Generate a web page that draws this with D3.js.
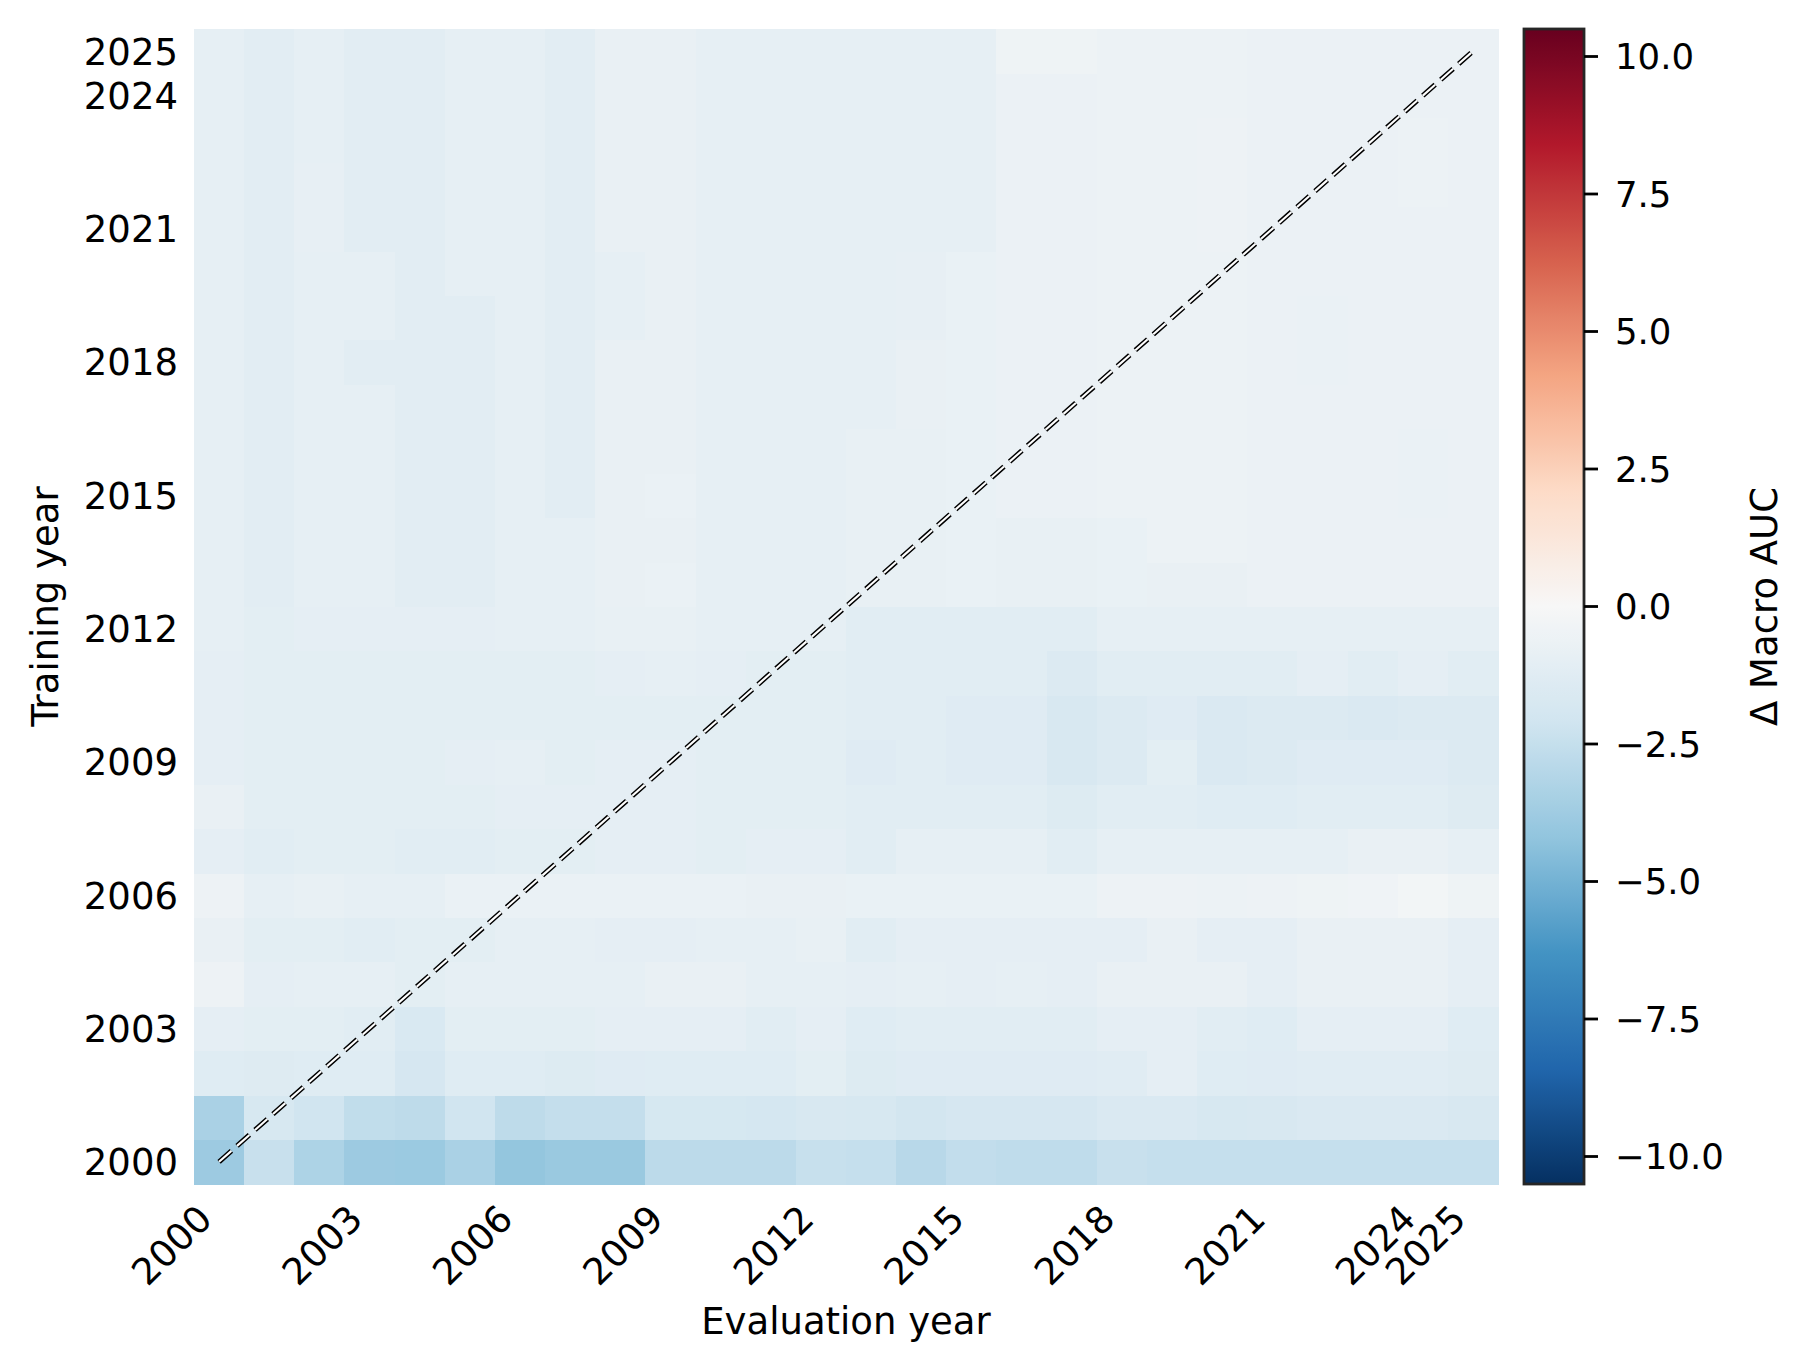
<!DOCTYPE html>
<html>
<head>
<meta charset="utf-8">
<script src="https://cdn.jsdelivr.net/npm/d3@7/dist/d3.min.js"></script>
<style>
  body { margin: 0; background: #fff; }
  svg text { font-family: "DejaVu Sans", sans-serif; fill: #000; }
</style>
</head>
<body>
<div id="container"></div>
<script>
// training / evaluation years (same set on both axes)
const years = [2000, 2001, 2002, 2003, 2004, 2005, 2006, 2007, 2008, 2009, 2010, 2011, 2012,
               2013, 2014, 2015, 2016, 2017, 2018, 2019, 2020, 2021, 2022, 2023, 2024, 2025];
const tickYears = [2000, 2003, 2006, 2009, 2012, 2015, 2018, 2021, 2024, 2025];
const cbarTicks = [-10, -7.5, -5, -2.5, 0, 2.5, 5, 7.5, 10];
const vLimit = 10.5;

// delta macro AUC, one row per training year (2000 first), columns = evaluation year 2000..2025
const deltaAuc = [
  [-3.85,-2.4,-3.3,-3.85,-3.9,-3.4,-4.15,-3.95,-3.95,-2.8,-2.8,-2.8,-2.45,-2.5,-2.95,-2.6,-2.7,-2.7,-2.4,-2.5,-2.5,-2.5,-2.5,-2.5,-2.5,-2.5],
  [-3.4,-1.75,-2.1,-2.65,-2.75,-2.1,-2.75,-2.55,-2.55,-1.8,-1.8,-1.9,-1.7,-1.75,-2.0,-1.85,-1.85,-1.85,-1.6,-1.6,-1.75,-1.7,-1.6,-1.6,-1.6,-1.7],
  [-1.3,-1.4,-1.3,-1.3,-1.85,-1.3,-1.3,-1.45,-1.35,-1.3,-1.3,-1.3,-1.1,-1.45,-1.35,-1.35,-1.35,-1.35,-1.25,-1.0,-1.3,-1.35,-1.25,-1.25,-1.25,-1.4],
  [-1.0,-1.1,-1.1,-1.2,-1.65,-1.1,-1.1,-1.1,-1.0,-1.0,-1.0,-1.2,-1.0,-1.3,-1.2,-1.2,-1.2,-1.2,-1.0,-1.0,-1.2,-1.3,-1.0,-1.0,-1.0,-1.3],
  [-0.55,-1.0,-0.95,-0.95,-1.1,-0.95,-0.95,-0.95,-0.95,-0.8,-0.8,-0.95,-0.95,-1.0,-0.95,-1.0,-0.95,-1.0,-0.8,-0.8,-0.8,-1.0,-0.8,-0.8,-0.8,-1.0],
  [-0.8,-1.1,-1.1,-1.2,-1.1,-1.1,-0.95,-0.95,-1.0,-1.0,-0.95,-0.95,-0.85,-1.2,-1.0,-1.0,-1.0,-1.0,-1.0,-0.8,-1.0,-1.0,-0.8,-0.8,-0.8,-1.0],
  [-0.55,-0.95,-0.85,-0.95,-0.95,-0.72,-0.72,-0.72,-0.72,-0.72,-0.72,-0.8,-0.8,-0.75,-0.75,-0.75,-0.75,-0.75,-0.55,-0.55,-0.62,-0.55,-0.5,-0.45,-0.25,-0.5],
  [-1.0,-1.2,-1.1,-1.1,-1.2,-1.2,-1.1,-1.1,-1.0,-1.0,-1.1,-1.0,-1.0,-1.2,-0.95,-0.95,-0.95,-1.2,-0.95,-0.95,-0.95,-0.95,-0.95,-0.8,-0.8,-0.95],
  [-0.8,-1.1,-1.1,-1.1,-1.1,-1.1,-1.0,-1.0,-1.0,-1.0,-1.1,-1.1,-1.1,-1.2,-1.2,-1.2,-1.2,-1.45,-1.2,-1.2,-1.3,-1.3,-1.2,-1.2,-1.2,-1.4],
  [-1.0,-1.1,-1.1,-1.1,-1.1,-1.0,-0.95,-1.1,-1.0,-1.0,-1.1,-1.1,-1.1,-1.35,-1.2,-1.35,-1.35,-1.7,-1.5,-1.1,-1.6,-1.5,-1.35,-1.35,-1.35,-1.5],
  [-1.0,-1.1,-1.1,-1.1,-1.1,-1.1,-1.1,-1.1,-1.1,-1.1,-1.1,-1.1,-1.1,-1.2,-1.2,-1.35,-1.35,-1.7,-1.5,-1.35,-1.6,-1.5,-1.5,-1.6,-1.5,-1.5],
  [-1.0,-1.1,-1.1,-1.1,-1.1,-1.1,-1.1,-1.1,-1.0,-0.95,-1.0,-1.1,-1.1,-1.2,-1.2,-1.2,-1.2,-1.5,-1.2,-1.2,-1.2,-1.2,-1.0,-1.2,-1.0,-1.2],
  [-0.95,-1.1,-1.0,-1.0,-1.0,-1.0,-0.95,-0.95,-0.85,-0.85,-0.95,-0.95,-0.95,-1.2,-1.2,-1.2,-1.2,-1.2,-0.95,-0.95,-0.95,-0.95,-0.95,-0.95,-0.95,-0.95],
  [-0.95,-1.15,-0.95,-0.95,-1.15,-1.15,-0.95,-0.95,-0.8,-0.72,-0.95,-0.95,-0.95,-0.85,-0.85,-0.75,-0.85,-0.85,-0.75,-0.8,-0.8,-0.65,-0.65,-0.65,-0.65,-0.65],
  [-0.95,-1.15,-0.95,-0.95,-1.15,-1.15,-0.95,-0.95,-0.8,-0.8,-0.95,-0.95,-0.95,-0.85,-0.85,-0.75,-0.85,-0.85,-0.75,-0.6,-0.6,-0.65,-0.65,-0.65,-0.65,-0.65],
  [-0.95,-1.15,-0.95,-0.95,-1.15,-1.15,-0.95,-1.15,-0.8,-0.7,-0.95,-0.95,-0.95,-0.85,-0.85,-0.75,-0.65,-0.65,-0.6,-0.6,-0.6,-0.65,-0.65,-0.65,-0.7,-0.65],
  [-0.95,-1.15,-0.95,-0.95,-1.15,-1.15,-0.95,-1.15,-0.8,-0.8,-0.95,-0.95,-0.95,-0.85,-0.85,-0.75,-0.65,-0.65,-0.6,-0.6,-0.6,-0.65,-0.65,-0.65,-0.7,-0.65],
  [-0.95,-1.15,-0.95,-0.95,-1.15,-1.15,-0.95,-1.15,-0.8,-0.8,-0.95,-0.95,-0.95,-0.95,-0.8,-0.75,-0.65,-0.65,-0.6,-0.6,-0.6,-0.65,-0.65,-0.65,-0.65,-0.65],
  [-0.95,-1.15,-0.95,-1.15,-1.15,-1.15,-0.95,-1.15,-0.8,-0.8,-0.95,-0.95,-0.95,-0.95,-0.8,-0.75,-0.65,-0.65,-0.6,-0.6,-0.6,-0.65,-0.7,-0.65,-0.65,-0.65],
  [-0.95,-1.15,-0.95,-0.95,-1.15,-1.15,-0.95,-1.15,-0.95,-0.8,-0.95,-0.95,-0.95,-0.95,-0.9,-0.75,-0.65,-0.65,-0.6,-0.6,-0.6,-0.65,-0.7,-0.65,-0.65,-0.65],
  [-0.95,-1.15,-0.95,-0.95,-1.15,-0.95,-0.95,-1.15,-0.95,-0.8,-0.95,-0.95,-0.95,-0.95,-0.9,-0.75,-0.65,-0.65,-0.6,-0.6,-0.6,-0.65,-0.65,-0.65,-0.65,-0.65],
  [-0.95,-1.15,-0.9,-1.15,-1.15,-0.95,-0.95,-1.15,-0.8,-0.8,-0.95,-0.95,-0.95,-0.95,-0.95,-0.95,-0.65,-0.65,-0.6,-0.6,-0.55,-0.65,-0.65,-0.65,-0.65,-0.65],
  [-0.95,-1.15,-0.9,-1.15,-1.15,-0.95,-0.95,-1.15,-0.8,-0.8,-0.95,-0.95,-0.95,-0.95,-0.95,-0.95,-0.65,-0.65,-0.6,-0.6,-0.55,-0.65,-0.65,-0.65,-0.6,-0.65],
  [-0.95,-1.15,-0.95,-1.15,-1.15,-0.95,-0.95,-1.15,-0.8,-0.8,-0.95,-0.95,-0.95,-0.95,-0.95,-0.95,-0.65,-0.65,-0.6,-0.6,-0.55,-0.65,-0.65,-0.65,-0.6,-0.65],
  [-0.95,-1.15,-0.95,-1.15,-1.15,-0.95,-0.95,-1.15,-0.8,-0.8,-0.95,-0.95,-0.95,-0.95,-0.95,-0.95,-0.65,-0.65,-0.6,-0.6,-0.6,-0.65,-0.65,-0.65,-0.65,-0.65],
  [-0.95,-1.15,-0.95,-1.15,-1.15,-0.95,-0.95,-1.15,-0.8,-0.8,-0.95,-0.95,-0.95,-0.95,-0.95,-0.95,-0.5,-0.5,-0.6,-0.6,-0.6,-0.65,-0.65,-0.65,-0.65,-0.65]
];

const width = 1811, height = 1346;
const plot = {left: 194, right: 1498, top: 29, bottom: 1184};
const cbar = {left: 1524, right: 1584};

const svg = d3.select("#container").append("svg")
    .attr("width", width)
    .attr("height", height);

const x = d3.scaleBand().domain(years).range([plot.left, plot.right]);
const y = d3.scaleBand().domain(years.slice().reverse()).range([plot.top, plot.bottom]);

// matplotlib RdBu_r, linear between the 11 anchor colours
const rdbu = ["#053061", "#2166ac", "#4393c3", "#92c5de", "#d1e5f0", "#f7f7f7",
              "#fddbc7", "#f4a582", "#d6604d", "#b2182b", "#67001f"];
const color = d3.scaleLinear()
    .domain(rdbu.map((c, i) => -vLimit + i * 2 * vLimit / (rdbu.length - 1)))
    .range(rdbu)
    .interpolate(d3.interpolateRgb)
    .clamp(true);

const cells = [];
deltaAuc.forEach(function(row, i) {
    row.forEach(function(v, j) {
        cells.push({train: years[i], evalYear: years[j], value: v});
    });
});

svg.append("g")
    .attr("shape-rendering", "crispEdges")
    .selectAll("rect")
    .data(cells)
    .enter()
    .append("rect")
    .attr("x", d => x(d.evalYear))
    .attr("y", d => y(d.train))
    .attr("width", x.bandwidth() + 0.5)
    .attr("height", y.bandwidth() + 0.5)
    .attr("fill", d => color(d.value));

// diagonal (train year == eval year): white dashes with a black edge
const bx = x.bandwidth() / 2, by = y.bandwidth() / 2;
const diag = [[x(years[0]) + bx, y(years[0]) + by],
              [x(years[years.length - 1]) + bx, y(years[years.length - 1]) + by]];
svg.append("path")
    .attr("d", d3.line()(diag))
    .attr("stroke", "#000")
    .attr("stroke-width", 5)
    .attr("stroke-dasharray", "16.5 7.5")
    .attr("fill", "none");
svg.append("path")
    .attr("d", d3.line()(diag))
    .attr("stroke", "#fff")
    .attr("stroke-width", 2.1)
    .attr("stroke-dasharray", "16.5 7.5")
    .attr("fill", "none");

// y tick labels
svg.append("g").selectAll("text")
    .data(tickYears)
    .enter()
    .append("text")
    .attr("x", 178)
    .attr("y", d => y(d) + by)
    .attr("dy", "0.36em")
    .attr("text-anchor", "end")
    .attr("font-size", 37)
    .text(d => d);

// x tick labels, rotated 45
svg.append("g").selectAll("text")
    .data(tickYears)
    .enter()
    .append("text")
    .attr("transform", d => `translate(${x(d) + bx - 5},${1221}) rotate(-45)`)
    .attr("text-anchor", "end")
    .attr("font-size", 37)
    .text(d => d);

svg.append("text")
    .attr("x", (plot.left + plot.right) / 2)
    .attr("y", 1334)
    .attr("text-anchor", "middle")
    .attr("font-size", 37)
    .text("Evaluation year");

svg.append("text")
    .attr("transform", `translate(58,${(plot.top + plot.bottom) / 2}) rotate(-90)`)
    .attr("text-anchor", "middle")
    .attr("font-size", 37)
    .text("Training year");

// colour bar
const cy = d3.scaleLinear().domain([-vLimit, vLimit]).range([plot.bottom, plot.top]);
const grad = svg.append("defs").append("linearGradient")
    .attr("id", "cbar-grad")
    .attr("x1", 0).attr("y1", 1).attr("x2", 0).attr("y2", 0);
grad.selectAll("stop")
    .data(d3.range(0, 1.0001, 0.01))
    .enter()
    .append("stop")
    .attr("offset", d => d)
    .attr("stop-color", d => color(-vLimit + d * 2 * vLimit));

svg.append("rect")
    .attr("x", cbar.left)
    .attr("y", plot.top)
    .attr("width", cbar.right - cbar.left)
    .attr("height", plot.bottom - plot.top)
    .attr("fill", "url(#cbar-grad)")
    .attr("stroke", "#262626")
    .attr("stroke-width", 2.8);

const cbAxis = svg.append("g");
cbAxis.selectAll("line")
    .data(cbarTicks)
    .enter()
    .append("line")
    .attr("x1", cbar.right)
    .attr("x2", cbar.right + 14)
    .attr("y1", d => cy(d))
    .attr("y2", d => cy(d))
    .attr("stroke", "#000")
    .attr("stroke-width", 2.8);
cbAxis.selectAll("text")
    .data(cbarTicks)
    .enter()
    .append("text")
    .attr("x", 1615)
    .attr("y", d => cy(d))
    .attr("dy", "0.36em")
    .attr("font-size", 35.5)
    .text(d => d3.format(".1f")(d).replace("-", "\u2212"));

svg.append("text")
    .attr("transform", `translate(1777,${(plot.top + plot.bottom) / 2}) rotate(-90)`)
    .attr("text-anchor", "middle")
    .attr("font-size", 37)
    .text("\u0394 Macro AUC");
</script>
</body>
</html>
